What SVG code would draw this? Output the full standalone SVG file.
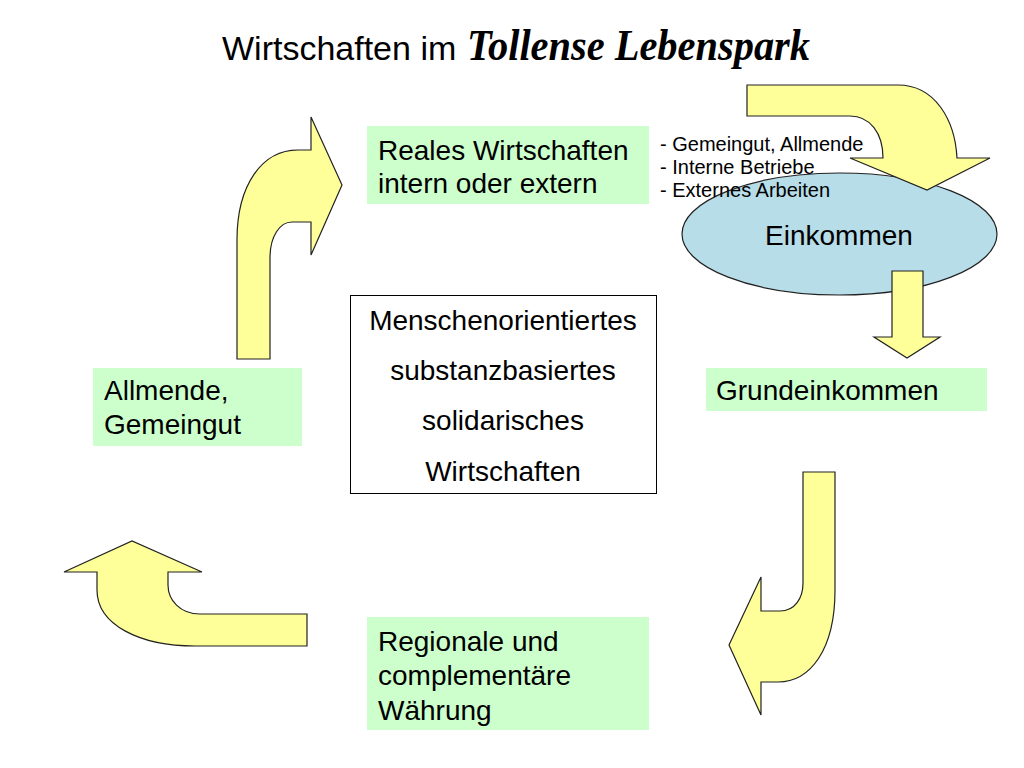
<svg xmlns="http://www.w3.org/2000/svg" width="1024" height="768" viewBox="0 0 1024 768">
<style>
.t{font-family:"Liberation Sans",Arial,sans-serif;fill:#000}
.b28{font-size:28px}
.box{fill:#ccffcc;stroke:none}
.arrow{fill:#ffff99;stroke:#222;stroke-width:1.2;stroke-linejoin:miter}
</style>
<rect width="1024" height="768" fill="#fff"/>
<g id="title">
<text class="t" x="222" y="60" font-size="34">Wirtschaften im</text>
<text x="467" y="60" font-family="'Liberation Serif',serif" font-style="italic" font-weight="bold" font-size="44" textLength="343" lengthAdjust="spacingAndGlyphs">Tollense Lebenspark</text>
</g>
<g id="einkommen">
<ellipse cx="839.5" cy="234" rx="157.5" ry="61" fill="#b7dde8" stroke="#222" stroke-width="1.2"/>
<text class="t b28" x="839" y="245" text-anchor="middle">Einkommen</text>
</g>
<g id="connectors">
<path id="arrow-up-right" class="arrow" d="M237,359 L237,240 C237,185 262,150 298,150 L311,150 L311,117 L342,185 L311,255 L311,222 L292,222 C280,222 270,236 270,258 L270,359 Z"/>
<path id="arrow-top-right" class="arrow" d="M747,85 L898,85 C935,85 955,120 957,158 L990,158 L927,190 L850,158 L883,158 C883,133 870,116 850,116 L747,116 Z"/>
<path id="arrow-down" class="arrow" d="M892,271 L923,271 L923,337 L940,337 L907,358 L874,337 L892,337 Z"/>
<path id="arrow-j" class="arrow" d="M803,472 L835,472 L835,590 C835,650 810,682 778,682 L761,682 L761,715 L729,645 L761,577 L761,611 L780,611 C795,611 803,598 803,583 Z"/>
<path id="arrow-left-up" class="arrow" d="M307,614 L200,614 C180,614 168,600 168,585 L168,572 L202,572 L132,541 L64,572 L97,572 L97,590 C97,625 140,646 195,646 L307,646 Z"/>
</g>
<g id="list">
<text class="t" font-size="20" x="660" y="151">- Gemeingut, Allmende</text>
<text class="t" font-size="20" x="660" y="174">- Interne Betriebe</text>
<text class="t" font-size="20" x="660" y="197">- Externes Arbeiten</text>
</g>
<g id="reales">
<rect class="box" x="367" y="126" width="282" height="78"/>
<text class="t b28" x="378" y="160">Reales Wirtschaften</text>
<text class="t b28" x="378" y="193">intern oder extern</text>
</g>
<g id="allmende">
<rect class="box" x="93" y="368" width="209" height="78"/>
<text class="t b28" x="104" y="400">Allmende,</text>
<text class="t b28" x="104" y="434">Gemeingut</text>
</g>
<g id="grundeinkommen">
<rect class="box" x="706" y="368" width="281" height="43"/>
<text class="t b28" x="716" y="400">Grundeinkommen</text>
</g>
<g id="regionale">
<rect class="box" x="367" y="617" width="282" height="113"/>
<text class="t b28" x="378" y="651">Regionale und</text>
<text class="t b28" x="378" y="685">complementäre</text>
<text class="t b28" x="378" y="720">Währung</text>
</g>
<g id="center">
<rect x="350.5" y="295.5" width="306" height="198" fill="#fff" stroke="#000" stroke-width="1"/>
<text class="t b28" x="503" y="330" text-anchor="middle">Menschenorientiertes</text>
<text class="t b28" x="503" y="380" text-anchor="middle">substanzbasiertes</text>
<text class="t b28" x="503" y="430" text-anchor="middle">solidarisches</text>
<text class="t b28" x="503" y="481" text-anchor="middle">Wirtschaften</text>
</g>
</svg>
